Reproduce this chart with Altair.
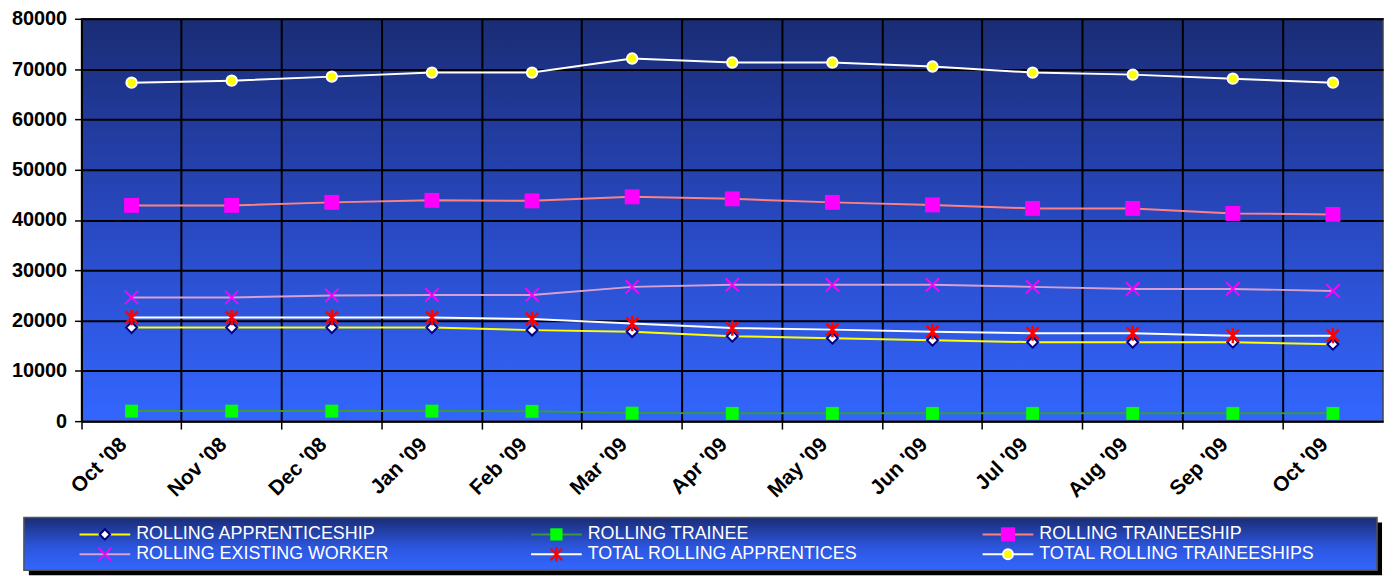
import altair as alt
import pandas as pd

months = ["Oct '08", "Nov '08", "Dec '08", "Jan '09", "Feb '09", "Mar '09", "Apr '09",
          "May '09", "Jun '09", "Jul '09", "Aug '09", "Sep '09", "Oct '09"]

series_names = ["ROLLING APPRENTICESHIP", "ROLLING TRAINEE", "ROLLING TRAINEESHIP",
                "ROLLING EXISTING WORKER", "TOTAL ROLLING APPRENTICES", "TOTAL ROLLING TRAINEESHIPS"]

apprenticeship = [18600, 18600, 18600, 18600, 18100, 17800, 16900, 16500, 16100, 15700, 15700, 15700, 15300]
trainee = [2000, 2000, 2000, 2000, 1950, 1600, 1550, 1550, 1550, 1550, 1550, 1550, 1550]
traineeship = [42900, 42900, 43500, 43900, 43800, 44600, 44200, 43500, 43000, 42300, 42300, 41300, 41100]
existing_worker = [24600, 24600, 25000, 25100, 25100, 26700, 27100, 27100, 27100, 26700, 26300, 26300, 25900]
total_apprentices = [20600, 20600, 20600, 20600, 20300, 19400, 18500, 18200, 17800, 17500, 17500, 17000, 17000]
total_traineeships = [67300, 67700, 68500, 69300, 69300, 72100, 71300, 71300, 70500, 69300, 68900, 68100, 67300]

y_ticks = [0, 10000, 20000, 30000, 40000, 50000, 60000, 70000, 80000]

all_values = [apprenticeship, trainee, traineeship, existing_worker, total_apprentices, total_traineeships]

# styles
line_colors = ["#ffff00", "#3a9a3a", "#ff8080", "#d8a0d0", "#ffffff", "#ffffff"]
ASTERISK = "M-1,-1L1,1M-1,1L1,-1M0,-1.25L0,1.25"
XMARK = "M-1,-1L1,1M-1,1L1,-1"
marker_styles = [
    dict(shape="diamond", size=120, fill="#ffffff", stroke="#000080", strokeWidth=2, filled=True),
    dict(shape="square", size=169, fill="#00ff00", stroke="#00ff00", strokeWidth=0, filled=True),
    dict(shape="square", size=225, fill="#ff00ff", stroke="#ff00ff", strokeWidth=0, filled=True),
    dict(shape=XMARK, size=180, fill="none", stroke="#ff00ff", strokeWidth=2, filled=False),
    dict(shape=ASTERISK, size=150, fill="none", stroke="#ff0000", strokeWidth=2.5, filled=False),
    dict(shape="circle", size=110, fill="#ffff00", stroke="#ffffff", strokeWidth=2, filled=True),
]

rows = []
for s, vals in zip(series_names, all_values):
    for m, v in zip(months, vals):
        rows.append({"month": m, "series": s, "value": v})
df = pd.DataFrame(rows)

FONT = "Liberation Sans, Arial, sans-serif"

x_enc = alt.X("month:N", sort=months,
              scale=alt.Scale(type="band", paddingInner=0, paddingOuter=0),
              axis=alt.Axis(title=None, labelAngle=-45, labelAlign="right", labelBaseline="middle",
                            bandPosition=0, labelOffset=-8, labelPadding=12, tickSize=8,
                            labelFont=FONT, labelFontSize=21, labelFontWeight="bold",
                            labelColor="black", grid=True, gridColor="black", gridWidth=2,
                            domainColor="black", domainWidth=1.5, tickColor="black", tickWidth=1.5))
y_enc = alt.Y("value:Q", scale=alt.Scale(domain=[0, 80000], nice=False),
              axis=alt.Axis(title=None, values=y_ticks, format="d", grid=True, gridColor="black",
                            gridWidth=2, tickSize=7, tickColor="black", tickWidth=1.5,
                            labelPadding=8, labelFont=FONT, labelFontSize=20,
                            labelFontWeight="bold", labelColor="black",
                            domainColor="black", domainWidth=1.5))

lines = alt.Chart(df).mark_line(strokeWidth=2).encode(
    x=x_enc, y=y_enc,
    color=alt.Color("series:N", scale=alt.Scale(domain=series_names, range=line_colors), legend=None),
)

point_layers = []
for s, st in zip(series_names, marker_styles):
    p = alt.Chart(df).transform_filter(alt.datum.series == s).mark_point(
        shape=st["shape"], size=st["size"], fill=st["fill"], stroke=st["stroke"],
        strokeWidth=st["strokeWidth"], filled=st["filled"], opacity=1
    ).encode(x=x_enc, y=y_enc)
    point_layers.append(p)

grad_expr = ("{gradient: 'linear', x1: 0, y1: 0, x2: 0, y2: 1, "
             "stops: [{offset: 0, color: '#1a2c74'}, {offset: 0.5, color: '#2848c0'}, {offset: 1, color: '#3366ff'}]}")

main = alt.layer(lines, *point_layers).properties(
    width=1310, height=405,
    view=alt.ViewBackground(fill={"expr": grad_expr}, stroke="#444444", strokeWidth=1.5),
)

# ---------- legend panel ----------
leg_df = pd.DataFrame({
    "series": series_names,
    "col": [i % 3 for i in range(6)],
    "row": [i // 3 for i in range(6)],
})
lx = alt.Scale(domain=[80, 1390], range=[0, 1310])
ly = alt.Scale(domain=[518, 571], range=[0, 53])

frame_df = pd.DataFrame({"x1": [22], "x2": [1384], "y1": [518], "y2": [571]})
shadow = alt.Chart(frame_df).transform_calculate(
    sx1="datum.x1 + 5", sx2="datum.x2 + 5", sy1="datum.y1 + 5", sy2="datum.y2 + 5"
).mark_rect(color="black").encode(
    x=alt.X("sx1:Q", scale=lx, axis=None), x2="sx2:Q",
    y=alt.Y("sy1:Q", scale=ly, axis=None), y2="sy2:Q",
)
box = alt.Chart(frame_df).mark_rect(
    color=alt.Gradient(gradient="linear", x1=0, y1=0, x2=0, y2=1,
                       stops=[alt.GradientStop(offset=0, color="#1a2c74"),
                              alt.GradientStop(offset=0.55, color="#2c55dc"),
                              alt.GradientStop(offset=1, color="#3366ff")]),
    stroke="#555555", strokeWidth=1.5,
).encode(
    x=alt.X("x1:Q", scale=lx, axis=None), x2="x2:Q",
    y=alt.Y("y1:Q", scale=ly, axis=None), y2="y2:Q",
)

leg_base = alt.Chart(leg_df).transform_calculate(
    x0="78 + datum.col * 454.5",
    x1="78 + datum.col * 454.5 + 51",
    xc="78 + datum.col * 454.5 + 25.5",
    xt="78 + datum.col * 454.5 + 57",
    yy="535 + datum.row * 20",
)
leg_lines = leg_base.mark_rule(strokeWidth=2).encode(
    x=alt.X("x0:Q", scale=lx, axis=None), x2="x1:Q",
    y=alt.Y("yy:Q", scale=ly, axis=None),
    color=alt.Color("series:N", scale=alt.Scale(domain=series_names, range=line_colors), legend=None),
)
leg_points = []
for s, st in zip(series_names, marker_styles):
    leg_points.append(leg_base.transform_filter(alt.datum.series == s).mark_point(
        shape=st["shape"], size=st["size"] * 0.9, fill=st["fill"], stroke=st["stroke"],
        strokeWidth=st["strokeWidth"], filled=st["filled"], opacity=1
    ).encode(x=alt.X("xc:Q", scale=lx, axis=None), y=alt.Y("yy:Q", scale=ly, axis=None)))
leg_text = leg_base.mark_text(align="left", baseline="middle", color="white",
                              font=FONT, fontSize=18).encode(
    x=alt.X("xt:Q", scale=lx, axis=None), y=alt.Y("yy:Q", scale=ly, axis=None),
    text="series:N",
)

legend_panel = alt.layer(shadow, box, leg_lines, *leg_points, leg_text).properties(
    width=1310, height=53,
    view=alt.ViewBackground(stroke="transparent"),
)

chart = alt.vconcat(main, legend_panel, spacing=14).properties(
    padding={"left": 2, "top": -2, "right": 2, "bottom": 0},
    background="white",
).configure_view(stroke="transparent")

chart.save("out.html", embed_options={"renderer": "svg", "actions": False})
